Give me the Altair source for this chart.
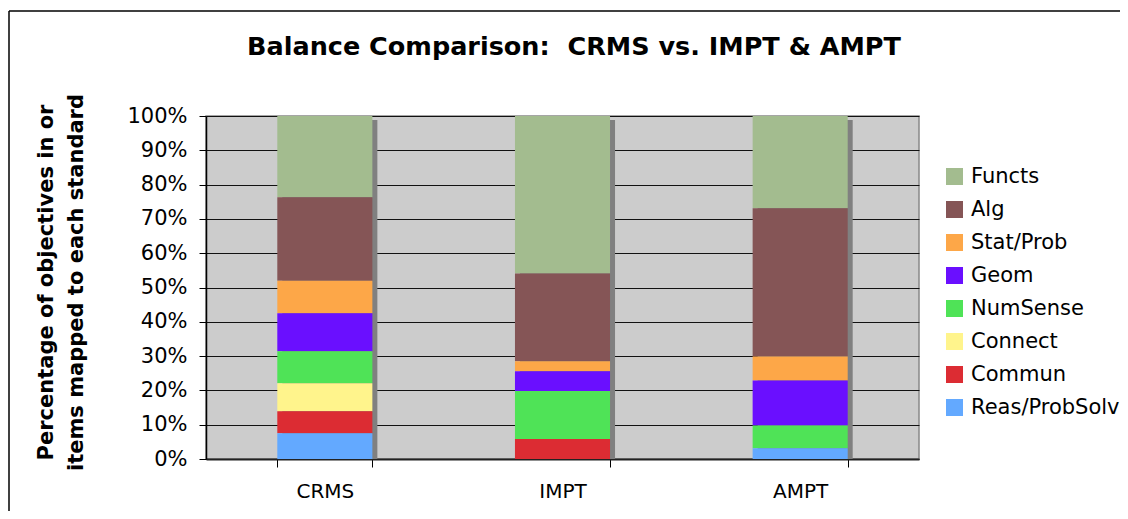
import altair as alt
import pandas as pd

standards = ["CRMS", "IMPT", "AMPT"]
categories = ["Functs", "Alg", "Stat/Prob", "Geom", "NumSense", "Connect", "Commun", "Reas/ProbSolv"]
colors = ["#A3BC8F", "#855556", "#FDA748", "#6A0FFF", "#4FE357", "#FFF48C", "#DC2C33", "#63A9FF"]
title_text = "Balance Comparison:\u00a0 CRMS vs. IMPT & AMPT"

# percentage of objectives per standard
functs = [23.7, 45.9, 26.9]
alg = [24.3, 25.6, 43.2]
statprob = [9.5, 2.9, 7.0]
geom = [11.1, 5.8, 13.1]
numsense = [9.3, 14.0, 6.7]
connect = [8.2, 0.0, 0.0]
commun = [6.4, 5.8, 0.0]
reas = [7.5, 0.0, 3.1]

series = [functs, alg, statprob, geom, numsense, connect, commun, reas]
rows = []
for ci, (cat, vals) in enumerate(zip(categories, series)):
    for s, v in zip(standards, vals):
        rows.append({"std": s, "cat": cat, "value": v / 100.0, "order": len(categories) - ci})
df = pd.DataFrame(rows)

FONT = "DejaVu Sans"

xenc = alt.X("std:N", sort=standards,
             scale=alt.Scale(paddingInner=0.6, paddingOuter=0.3),
             axis=alt.Axis(title=None, labelAngle=0, labelFontSize=20, labelFont=FONT,
                           labelColor="black", labelPadding=14, tickBand="extent",
                           tickSize=8, tickColor="black", domainColor="#222222",
                           domainWidth=2))

yaxis = alt.Axis(format=".0%", values=[i / 10 for i in range(11)], labelOverlap=False,
                 labelFontSize=21, labelFont=FONT, labelColor="black",
                 labelPadding=12, tickSize=7, tickColor="black",
                 domainColor="black", domainWidth=1.5,
                 grid=True, gridColor="#111111", gridWidth=1,
                 title=["Percentage of objectives in or", "items mapped to each standard"],
                 titleFont=FONT, titleFontSize=21, titleFontWeight="bold",
                 titleColor="black", titleAngle=-90, titleAlign="center",
                 titleBaseline="top", titleX=-171, titleY=166, titleLineHeight=30)
yscale = alt.Scale(domain=[0, 1], nice=False)

shadow = alt.Chart(df).transform_aggregate(
    total="sum(value)", groupby=["std"]
).mark_bar(color="#808080", xOffset=5, yOffset=4, y2Offset=0).encode(
    x=xenc,
    y=alt.Y("total:Q", scale=yscale, axis=yaxis),
    y2=alt.datum(0),
)

bars = alt.Chart(df).mark_bar(strokeWidth=0).encode(
    x=xenc,
    y=alt.Y("value:Q", stack="zero", scale=yscale, axis=yaxis),
    color=alt.Color("cat:N", sort=categories,
                    scale=alt.Scale(domain=categories, range=colors),
                    legend=alt.Legend(title=None, orient="none", legendX=738, legendY=50,
                                      symbolType="square", symbolSize=289, symbolStrokeWidth=0,
                                      labelFontSize=21, labelFont=FONT, labelColor="black",
                                      rowPadding=11, labelOffset=6)),
    order=alt.Order("order:Q", sort="ascending"),
)

frame_df = pd.DataFrame({"k": [0]})
left_line = alt.Chart(frame_df).mark_rule(color="black", strokeWidth=1.5).encode(
    x=alt.value(-197), y=alt.value(-105), y2=alt.value(395))
top_line = alt.Chart(frame_df).mark_rule(color="black", strokeWidth=1.5).encode(
    y=alt.value(-105), x=alt.value(-197), x2=alt.value(914))
title_mark = alt.Chart(frame_df).mark_text(
    text=title_text, font=FONT, fontSize=25.5, fontWeight="bold", color="black",
    align="center", baseline="alphabetic"
).encode(x=alt.value(368), y=alt.value(-61))

chart = alt.layer(shadow, bars, left_line, top_line, title_mark).properties(
    width=713, height=343,
    background="white",
    autosize=alt.AutoSizeParams(type="none"),
    padding={"left": 198, "top": 108, "right": 201, "bottom": 52},
).configure_view(
    fill="#CCCCCC", stroke="#888888", strokeWidth=1.5
)

chart.save("out.html", embed_options={"renderer": "svg", "actions": False})
